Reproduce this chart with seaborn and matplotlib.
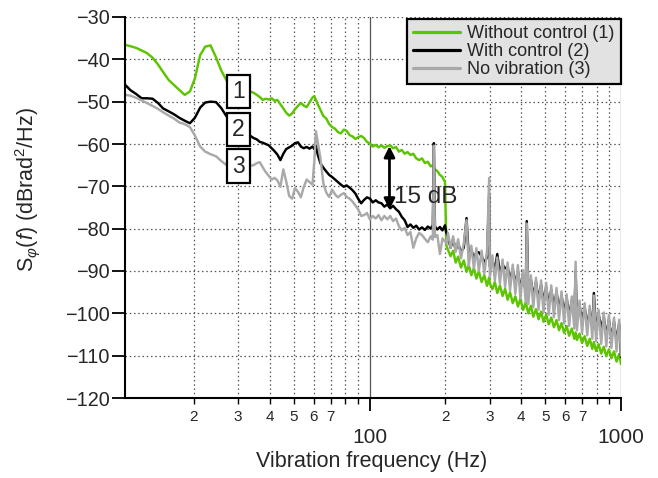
import matplotlib
matplotlib.use("Agg")
import matplotlib.pyplot as plt
import pandas as pd
import seaborn as sns
from matplotlib.ticker import FixedLocator, FuncFormatter

# Phase noise spectra S_phi(f) in dBrad^2/Hz
freq_hz = [
    10.7, 11.2, 11.8, 12.4, 13.0, 13.7, 14.4, 15.1, 15.9, 16.7,
    17.5, 18.4, 19.3, 20.2, 21.2, 22.2, 23.3, 24.5, 25.7, 27.0,
    28.5, 30.0, 31.5, 33.0, 34.6, 35.6, 36.6, 37.6, 38.6, 39.7,
    40.8, 41.9, 43.0, 44.2, 45.4, 46.6, 47.9, 49.2, 50.5, 51.9,
    53.3, 54.7, 56.2, 57.7, 59.3, 60.3, 61.2, 62.2, 63.8, 65.5,
    67.3, 69.1, 71.0, 72.9, 74.9, 76.9, 79.0, 81.1, 83.3, 85.5,
    87.8, 90.2, 92.6, 95.1, 97.7, 100.3, 103.0, 105.8, 108.6, 111.5,
    114.5, 117.6, 120.8, 124.0, 127.4, 130.8, 134.3, 137.9, 141.6, 145.4,
    149.3, 153.3, 157.4, 161.6, 166.0, 170.5, 175.1, 178.5, 180.2, 182.0,
    186.0, 190.5, 195.0, 199.5, 202.0, 205, 210, 215, 220, 225,
    231, 237, 243, 248, 254, 260, 266, 272, 279, 286,
    293, 299, 301, 308, 315, 322, 330, 338, 346, 354,
    362, 371, 380, 389, 398, 408, 418, 422, 428, 438,
    448, 459, 470, 481, 492, 504, 516, 528, 541, 554,
    567, 580, 594, 608, 622, 637, 652, 660, 668, 684,
    700, 717, 734, 751, 769, 780, 796, 815, 834, 854,
    874, 895, 916, 938, 960, 983, 1000,
]

without_control = [
    -36.6, -36.9, -37.3, -37.9, -38.5, -39.6, -41.2, -43.0, -44.9, -46.1,
    -47.2, -48.4, -47.6, -44.5, -39.0, -37.0, -36.7, -39.5, -42.6, -45.0,
    -46.0, -46.5, -47.0, -47.5, -47.9, -48.4, -48.9, -49.6, -49.3, -49.5,
    -49.2, -49.8, -49.6, -50.6, -51.6, -52.6, -53.3, -52.8, -51.8, -51.0,
    -50.3, -50.9, -51.3, -50.2, -49.0, -48.7, -49.6, -50.6, -52.0, -53.4,
    -54.0, -55.3, -56.0, -56.4, -57.2, -57.5, -56.6, -56.9, -57.9, -58.2,
    -58.8, -58.4, -58.1, -58.6, -59.5, -59.9, -60.6, -60.2, -60.8, -60.3,
    -60.9, -60.5, -60.3, -61.0, -60.7, -61.8, -61.4, -62.3, -61.9, -62.6,
    -62.3, -63.4, -63.8, -63.4, -64.5, -64.2, -65.3, -65.0, -65.6, -66.0,
    -66.4, -67.3, -67.8, -69.0, -84.0, -85.0, -86.5, -85.2, -88.0, -86.6,
    -89.2, -87.5, -90.2, -88.6, -91.0, -89.3, -91.8, -90.0, -92.6, -91.0,
    -93.5, -91.5, -93.0, -94.3, -92.6, -95.2, -93.4, -95.9, -94.2, -96.8,
    -95.0, -97.6, -96.0, -98.4, -96.6, -99.2, -97.4, -98.5, -100.0, -98.2,
    -100.8, -99.0, -101.4, -99.6, -102.0, -100.3, -102.6, -101.0, -103.3, -101.6,
    -104.0, -102.3, -104.6, -103.0, -105.3, -103.6, -106.0, -104.5, -106.3, -104.8,
    -107.0, -105.4, -107.7, -106.0, -108.4, -106.8, -108.9, -107.3, -109.5, -107.9,
    -110.1, -108.5, -110.6, -109.0, -111.4, -109.6, -112.0,
]

with_control = [
    -46.1, -47.3, -48.2, -49.2, -49.2, -49.3, -50.3, -51.6, -52.3, -53.0,
    -53.8, -54.5, -55.1, -53.8, -51.4, -50.2, -50.0, -50.1, -51.5, -53.5,
    -55.0, -56.0, -57.0, -57.8, -58.6, -58.9, -59.5, -59.7, -60.0, -60.3,
    -61.0, -61.7, -62.5, -63.8, -62.3, -61.2, -60.8, -60.4, -59.8, -59.6,
    -60.6, -61.0, -60.7, -61.1, -60.6, -61.2, -60.4, -62.5, -64.6, -65.6,
    -66.5, -67.3, -67.8, -68.4, -69.0, -69.6, -70.1, -69.8, -70.3, -70.9,
    -71.7, -73.0, -74.0, -73.2, -72.6, -72.9, -73.8, -73.3, -73.8, -74.0,
    -74.8, -74.3, -75.2, -74.6, -75.4, -76.0, -77.2, -78.0, -79.6, -79.0,
    -79.8, -79.3, -80.2, -79.7, -80.3, -79.5, -80.0, -79.2, -59.8, -79.5,
    -80.2, -79.6, -80.4, -79.2, -81.0, -82.0, -84.5, -82.5, -85.0, -83.5,
    -85.5, -84.5, -77.5, -86.5, -85.0, -87.0, -85.6, -85.6, -86.5, -88.0,
    -86.8, -72.0, -89.0, -87.5, -89.8, -86.0, -90.5, -88.5, -89.4, -89.0,
    -92.0, -89.5, -93.0, -90.0, -94.0, -91.0, -95.0, -78.2, -95.5, -92.0,
    -96.0, -92.6, -96.8, -93.2, -97.4, -93.8, -98.0, -94.4, -98.6, -95.0,
    -99.2, -95.8, -99.8, -96.4, -100.6, -97.0, -101.2, -90.0, -101.6, -98.0,
    -102.2, -98.6, -103.0, -99.2, -103.6, -95.2, -104.2, -100.2, -103.6, -100.8,
    -105.4, -101.4, -106.0, -102.0, -106.6, -102.5, -110.3,
]

no_vibration = [
    -48.4, -48.6, -49.1, -49.7, -50.3, -51.0, -51.7, -52.5, -53.3, -54.0,
    -54.9, -55.3, -56.0, -58.0, -60.6, -61.8, -62.4, -62.9, -64.0, -65.0,
    -65.5, -65.5, -65.4, -65.2, -65.0, -64.5, -64.3, -65.5, -66.6, -67.5,
    -68.4, -68.0, -68.6, -70.1, -66.0, -68.8, -72.3, -72.9, -70.4, -71.3,
    -72.6, -70.2, -68.4, -69.0, -69.6, -64.0, -57.0, -59.5, -63.5, -69.3,
    -71.5, -72.5, -70.8, -71.9, -72.6, -72.0, -71.6, -72.5, -72.9, -73.6,
    -74.5, -75.5, -77.0, -76.8, -76.3, -77.8, -77.0, -77.6, -76.8, -78.0,
    -77.0, -77.8, -77.0, -78.2, -77.6, -79.4, -80.4, -79.8, -81.5, -80.8,
    -84.5, -82.3, -81.0, -81.5, -82.4, -83.2, -81.8, -82.6, -60.4, -82.0,
    -81.5, -86.0, -82.3, -83.0, -83.5, -81.0, -84.5, -81.8, -85.5, -82.5,
    -87.0, -83.5, -78.0, -88.8, -84.0, -89.4, -84.6, -90.0, -85.2, -90.6,
    -85.8, -68.0, -91.4, -86.3, -92.3, -86.8, -93.0, -87.3, -93.8, -88.0,
    -94.6, -88.5, -95.4, -88.6, -96.5, -89.8, -97.4, -78.8, -97.8, -91.0,
    -98.6, -91.6, -99.2, -92.2, -99.8, -92.8, -100.3, -93.4, -100.9, -94.0,
    -101.6, -94.8, -102.4, -95.5, -103.0, -96.0, -103.6, -87.8, -104.0, -97.0,
    -104.6, -97.6, -105.2, -98.2, -106.0, -95.8, -106.6, -99.2, -107.2, -99.8,
    -107.8, -100.4, -108.2, -101.0, -109.0, -101.5, -110.0,
]

series_names = ["Without control (1)", "With control (2)", "No vibration (3)"]
series_colors = ["#5cc400", "#000000", "#a9a9a9"]
curve_tags = ["1", "2", "3"]
tag_freq = 30.1
tag_levels = [-47.5, -56.5, -65.2]
gap_freq = 120.0
gap_top, gap_bottom = -60.5, -75.5
gap_text = "15 dB"

y_ticks = list(range(-120, -29, 10))
x_major = [100, 1000]
x_minor = [20, 30, 40, 50, 60, 70, 80, 90, 200, 300, 400, 500, 600, 700, 800, 900]

df = pd.DataFrame({
    "freq": freq_hz,
    series_names[0]: without_control,
    series_names[1]: with_control,
    series_names[2]: no_vibration,
}).melt(id_vars="freq", var_name="series", value_name="psd")

sns.set_style("white")
plt.rcParams["font.family"] = ["Liberation Sans", "DejaVu Sans"]
plt.rcParams["mathtext.fontset"] = "custom"
plt.rcParams["mathtext.rm"] = "Liberation Sans"
plt.rcParams["mathtext.it"] = "Liberation Sans:italic"

fig = plt.figure(figsize=(6.58, 4.78), dpi=100)
ax = fig.add_axes([125 / 658, 1 - 398 / 478, 496 / 658, 381 / 478])

sns.lineplot(data=df, x="freq", y="psd", hue="series", hue_order=series_names,
             palette=series_colors, estimator=None, sort=False, lw=1.75, ax=ax)

ax.set_xscale("log")
ax.set_xlim(10.65, 1000)
ax.set_ylim(-120, -30)

ax.yaxis.set_major_locator(FixedLocator(y_ticks))
ax.xaxis.set_major_locator(FixedLocator(x_major))
ax.xaxis.set_minor_locator(FixedLocator(x_minor))
ax.xaxis.set_major_formatter(FuncFormatter(lambda v, p: f"{int(round(v))}"))


def minor_label(v, pos):
    lead = int(round(v / (10 ** int(len(str(int(round(v)))) - 1))))
    return str(lead) if 2 <= lead <= 7 else ""


ax.xaxis.set_minor_formatter(FuncFormatter(minor_label))

ax.tick_params(axis="y", which="major", direction="out", length=9.4, width=1.3,
               labelsize=14.3, pad=1.5, color="black", left=True)
ax.tick_params(axis="x", which="major", direction="out", length=9.4, width=1.3,
               labelsize=15, pad=12, color="black", bottom=True)
ax.tick_params(axis="x", which="minor", direction="out", length=4.4, width=1.0,
               labelsize=11, pad=4.5, color="black", bottom=True)

dotted = (0, (1.2, 2.2))
ax.set_axisbelow(True)
ax.grid(False)
ax.yaxis.grid(True, which="major", color="#555555", lw=0.9, ls=dotted)
ax.xaxis.grid(True, which="major", color="#555555", lw=0.9, ls="-")
ax.xaxis.grid(True, which="minor", color="#555555", lw=0.9, ls=dotted)

sns.despine(ax=ax)
for side in ("left", "bottom"):
    ax.spines[side].set_linewidth(1.5)
    ax.spines[side].set_color("black")

ax.set_xlabel("Vibration frequency (Hz)", fontsize=15.5)
ax.xaxis.set_label_coords(0.497, -0.140)
ax.set_ylabel(r"$\mathrm{S}_{\varphi}(f)$ (dBrad$^2$/Hz)", fontsize=15.5)
ax.yaxis.set_label_coords(-0.1665, 0.547)

handles, labels = ax.get_legend_handles_labels()
leg = ax.legend(handles, labels, loc="upper right", bbox_to_anchor=(1.0, 0.995),
                frameon=True, fancybox=False, edgecolor="black", facecolor="#e2e2e2",
                framealpha=1, fontsize=13, handlelength=2.6, handletextpad=0.4,
                labelspacing=0.05, borderpad=0.35, borderaxespad=0)
leg.get_frame().set_linewidth(1.6)
for line in leg.get_lines():
    line.set_linewidth(2.3)

for tag, level in zip(curve_tags, tag_levels):
    ax.text(tag_freq, level, tag, ha="center", va="center", fontsize=16.5, zorder=6,
            bbox=dict(boxstyle="square,pad=0.22", fc="white", ec="black", lw=1.6))

ax.annotate("", xy=(gap_freq, gap_top), xytext=(gap_freq, gap_bottom), zorder=7,
            arrowprops=dict(arrowstyle="<|-|>", color="black", lw=2,
                            mutation_scale=16, shrinkA=0, shrinkB=0))
ax.text(124.6, -74.0, gap_text, ha="left", va="baseline", fontsize=17.5, zorder=7)

fig.savefig("out.png", dpi=100)
